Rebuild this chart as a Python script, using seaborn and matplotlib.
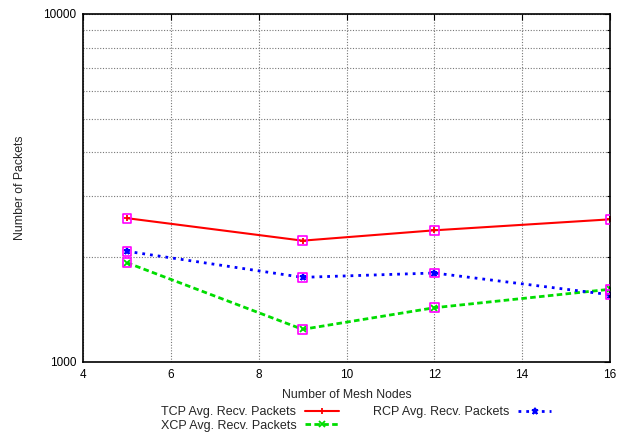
import matplotlib
matplotlib.use("Agg")
import matplotlib.pyplot as plt
import seaborn as sns
import pandas as pd
import numpy as np
from matplotlib.ticker import LogLocator, NullFormatter, FixedLocator

nodes = [5, 9, 12, 16]
tcp = [2590, 2232, 2390, 2570]
xcp = [1929, 1241, 1432, 1618]
rcp = [2080, 1751, 1802, 1561]
labels = ["TCP Avg. Recv. Packets", "XCP Avg. Recv. Packets", "RCP Avg. Recv. Packets"]
xticks = [4, 6, 8, 10, 12, 14, 16]

sns.set_style("white")
plt.rcParams['font.family'] = ['Liberation Sans', 'DejaVu Sans']
plt.rcParams['font.size'] = 8.5

fig = plt.figure(figsize=(6.26, 4.34), dpi=100)
ax = fig.add_axes([83/626, 72/434, 527/626, 348/434])

series = [(tcp, labels[0], "#ff0000", "-", "+", 1.5),
          (xcp, labels[1], "#00dd00", (0, (2.0, 1.2)), "x", 2.0),
          (rcp, labels[2], "#0000ff", (0, (1, 1.8)), "*", 2.0)]

for vals, lab, col, ls, mk, lw in series:
    df = pd.DataFrame({"x": nodes, "y": vals})
    sns.lineplot(data=df, x="x", y="y", ax=ax, color=col, linestyle=ls, linewidth=lw,
                 marker=mk, markersize=5, markeredgecolor=col, markeredgewidth=1.3,
                 label=lab)
    sns.scatterplot(data=df, x="x", y="y", ax=ax, marker="s", s=40,
                    facecolor="none", edgecolor="#ff00ff", linewidth=1.2, legend=False, zorder=5)

ax.set_yscale("log")
ax.set_xlim(4, 16)
ax.set_ylim(1000, 10000)
ax.xaxis.set_major_locator(FixedLocator(xticks))
ax.yaxis.set_major_locator(FixedLocator([1000, 10000]))
ax.yaxis.set_major_formatter(matplotlib.ticker.FuncFormatter(lambda v, p: f"{int(round(v))}"))
ax.yaxis.set_minor_locator(LogLocator(base=10, subs=np.arange(2, 10)))
ax.yaxis.set_minor_formatter(NullFormatter())
ax.grid(True, which="both", axis="y", color="#777777", linestyle=(0, (1, 1.5)), linewidth=0.8)
ax.grid(True, which="major", axis="x", color="#777777", linestyle=(0, (1, 1.5)), linewidth=0.8)
ax.tick_params(axis="both", which="both", direction="in", top=True, right=True,
               length=4, width=0.8, labelsize=8.5, colors="black", pad=5)
ax.tick_params(axis="y", which="minor", length=2.5)
for s in ax.spines.values():
    s.set_color("black")
    s.set_linewidth(1.2)
ax.set_xlabel("Number of Mesh Nodes", fontsize=8.8, labelpad=5.5)
ax.set_ylabel("Number of Packets", fontsize=8.8, labelpad=12)

h, l = ax.get_legend_handles_labels()
ax.get_legend().remove()
fig.legend(h, l, ncol=2, loc="center", bbox_to_anchor=(356/626, 1 - 419/434),
           frameon=False, markerfirst=False, handlelength=2.7, columnspacing=2.7,
           labelspacing=0.1, handletextpad=0.7, fontsize=9)

fig.savefig("out.png", dpi=100)
